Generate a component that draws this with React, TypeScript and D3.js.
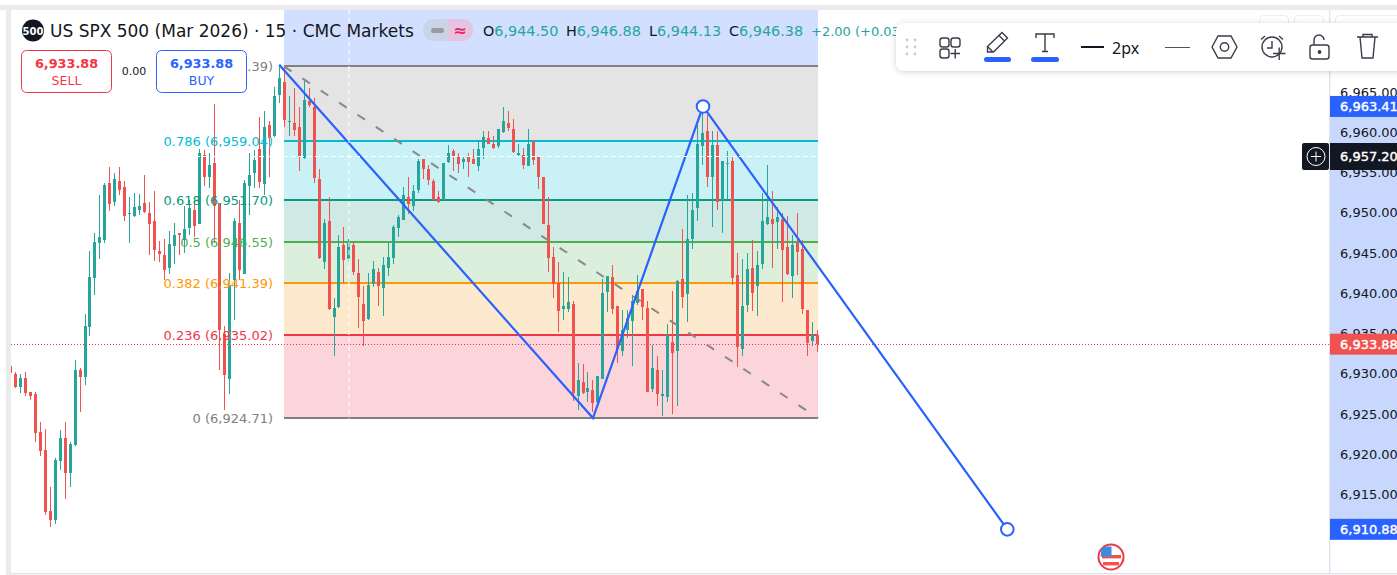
import React from 'react';
import * as d3 from 'd3';

const FONT = '"DejaVu Sans", sans-serif';

const symbolTitle = 'US SPX 500 (Mar 2026) · 15 · CMC Markets';
const ohlcFields = [
  { k: 'O', v: '6,944.50' },
  { k: 'H', v: '6,946.88' },
  { k: 'L', v: '6,944.13' },
  { k: 'C', v: '6,946.38' },
];
const changeText = '+2.00 (+0.03%)';
const lastPrice = 6933.88;
const crosshairPrice = 6957.2;
const crosshairBar = 68;

const axisTicks = [6965, 6960, 6955, 6950, 6945, 6940, 6935, 6930, 6925, 6920, 6915];

const direction =
  'rrgrrrrrrggrggrggggg' +
  'rgrrgggrrrrrggrggrgr' +
  'grrrggrgggrgrggrgrrg' +
  'rrrgrggrgrrrggrggggg' +
  'rggrrrrggrrgrrggrrgg' +
  'rrgrgrrrrrrggrgrgrgg' +
  'grrggggrrgrggrgrgggg' +
  'rgrggrrggrgggrgrrgrr' +
  'rgr';

const highs = [
  6931.4,6930.4,6930.2,6930.4,6927.9,6927.9,6924.2,6923.4,6916.2,6919.7,6923.2,6924.2,6921.7,6931.9,6930.9,6937.6,6945.4,6947.7,6952.4,6953.9,
  6955.9,6955.1,6955.9,6954.1,6952.1,6952.6,6952.5,6954.9,6951.6,6952.9,6946.7,6946.9,6947.9,6948.9,6947.7,6951.1,6951.8,6951.8,6958.1,6958.0,
  6957.6,6963.7,6951.4,6936.1,6942.7,6949.5,6951.8,6954.3,6957.6,6958.0,6962.1,6962.8,6961.6,6965.8,6968.4,6968.4,6964.7,6965.7,6963.3,6966.7,
  6965.7,6964.4,6955.6,6949.4,6952.1,6939.6,6947.4,6948.4,6946.9,6946.6,6944.4,6941.1,6942.7,6944.2,6943.4,6944.7,6946.6,6948.7,6949.9,6953.4,
  6954.6,6953.6,6956.9,6956.9,6956.1,6954.4,6952.9,6956.4,6958.6,6958.1,6957.6,6957.1,6957.6,6958.1,6959.3,6960.3,6960.3,6959.8,6960.6,6963.3,
  6962.8,6961.8,6958.7,6958.3,6960.6,6959.1,6957.1,6954.6,6952.1,6945.9,6944.1,6942.9,6942.2,6939.3,6931.6,6931.4,6930.4,6929.4,6929.9,6942.0,
  6942.3,6943.7,6938.6,6938.1,6938.1,6940.0,6942.5,6940.7,6939.3,6933.8,6932.4,6930.7,6936.4,6940.5,6941.8,6948.2,6952.4,6952.6,6961.1,6962.6,
  6962.3,6960.3,6960.3,6956.6,6957.9,6957.1,6945.2,6944.4,6945.2,6946.8,6945.4,6952.6,6956.1,6952.9,6950.9,6950.2,6949.8,6947.4,6950.2,6946.8,
  6938.1,6936.6,6935.6,
];
const bodyHighs = [
  6931.2,6930.2,6929.7,6929.7,6927.9,6927.7,6923.0,6920.7,6913.1,6919.5,6922.2,6922.2,6921.5,6930.7,6930.7,6936.1,6942.2,6946.6,6947.2,6953.6,
  6953.9,6954.4,6954.1,6953.4,6950.2,6950.9,6951.1,6951.4,6950.2,6949.2,6945.4,6944.9,6946.3,6947.4,6947.7,6948.2,6950.8,6950.5,6957.6,6957.4,
  6956.1,6956.4,6951.4,6935.2,6941.2,6949.2,6948.9,6953.9,6954.9,6956.7,6958.1,6960.8,6961.1,6964.7,6966.9,6966.4,6961.6,6961.3,6960.8,6964.2,
  6964.1,6963.4,6954.4,6948.9,6949.2,6938.4,6945.9,6946.2,6946.4,6946.2,6942.7,6938.9,6941.2,6943.2,6942.9,6943.7,6944.7,6948.4,6949.7,6952.4,
  6952.1,6952.9,6956.6,6956.9,6955.6,6954.1,6952.1,6956.4,6957.6,6957.9,6957.1,6956.9,6957.1,6956.9,6958.1,6959.6,6959.5,6958.7,6960.6,6961.6,
  6961.3,6960.6,6957.6,6957.4,6958.8,6959.1,6957.1,6954.6,6948.7,6944.7,6941.5,6938.6,6939.1,6938.9,6929.4,6929.2,6928.4,6928.2,6929.9,6940.2,
  6942.3,6942.2,6938.6,6935.6,6937.1,6939.2,6940.5,6940.7,6938.4,6930.9,6930.7,6927.7,6935.0,6934.1,6941.7,6942.0,6946.9,6950.6,6958.8,6960.1,
  6960.3,6958.6,6958.6,6956.6,6956.4,6956.6,6942.5,6938.6,6943.2,6943.4,6943.7,6949.2,6949.7,6949.4,6949.7,6949.4,6945.9,6946.2,6946.4,6945.7,
  6938.1,6935.1,6935.0,
];
const bodyLows = [
  6930.3,6928.5,6928.5,6927.8,6927.5,6922.8,6920.6,6913.0,6912.0,6912.0,6919.4,6917.9,6917.9,6921.3,6929.8,6929.8,6936.0,6942.1,6946.4,6946.8,
  6951.3,6951.5,6953.0,6949.8,6950.0,6949.8,6950.5,6950.3,6948.8,6945.6,6945.1,6943.1,6943.3,6946.1,6947.4,6946.8,6948.3,6948.5,6948.8,6954.7,
  6954.6,6951.0,6935.7,6930.0,6929.5,6941.8,6943.1,6942.6,6953.5,6955.2,6954.0,6953.8,6959.5,6959.7,6964.8,6961.7,6961.5,6960.5,6957.2,6957.0,
  6963.6,6954.5,6944.6,6944.1,6938.2,6937.2,6938.5,6944.3,6944.5,6942.8,6939.8,6936.7,6937.0,6941.3,6941.1,6940.8,6943.3,6944.6,6948.3,6949.3,
  6951.3,6951.0,6953.0,6955.7,6954.3,6951.8,6951.5,6951.8,6956.5,6957.2,6956.2,6956.5,6956.5,6956.2,6956.0,6958.2,6958.7,6958.2,6958.5,6960.2,
  6960.7,6957.7,6957.4,6956.1,6956.0,6956.7,6954.7,6948.8,6944.6,6941.3,6938.0,6938.2,6938.2,6927.8,6927.5,6927.8,6928.0,6926.6,6926.7,6929.5,
  6940.3,6938.2,6933.3,6933.0,6935.7,6936.7,6939.0,6938.5,6928.0,6928.3,6927.7,6927.5,6927.3,6932.8,6933.0,6939.8,6940.1,6947.0,6950.8,6958.5,
  6954.7,6954.7,6951.5,6951.8,6956.2,6942.1,6933.5,6933.3,6938.7,6940.2,6941.1,6943.8,6948.8,6948.8,6949.0,6945.6,6942.6,6942.3,6945.3,6938.2,
  6934.0,6934.3,6933.9,
];
const lows = [
  6930.0,6928.4,6927.8,6927.4,6926.9,6921.7,6920.0,6912.6,6911.2,6911.6,6918.2,6914.6,6916.2,6921.2,6925.4,6928.8,6934.9,6940.0,6944.4,6946.4,
  6950.4,6951.1,6952.4,6949.2,6946.4,6949.7,6949.9,6950.2,6944.9,6944.2,6944.1,6941.8,6942.6,6943.9,6944.9,6945.2,6947.4,6947.2,6948.8,6953.5,
  6953.3,6946.4,6930.7,6925.7,6927.7,6936.9,6941.8,6942.6,6949.9,6953.3,6953.3,6952.4,6954.6,6959.6,6963.9,6960.8,6959.8,6959.8,6955.4,6956.9,
  6963.4,6953.9,6944.4,6943.2,6938.1,6932.4,6938.4,6941.5,6944.1,6942.5,6935.9,6933.6,6936.9,6941.0,6938.6,6937.4,6942.3,6943.9,6947.2,6949.3,
  6950.0,6950.4,6952.6,6954.4,6953.6,6951.8,6951.4,6951.8,6956.4,6955.4,6955.2,6955.6,6954.6,6956.2,6955.4,6956.9,6958.7,6958.1,6958.3,6960.1,
  6960.3,6957.6,6957.2,6955.6,6956.0,6956.1,6953.1,6948.8,6942.9,6939.6,6935.4,6936.9,6937.9,6926.8,6925.7,6927.7,6926.7,6925.4,6926.2,6929.5,
  6937.9,6937.6,6931.6,6932.4,6934.6,6931.2,6938.7,6936.9,6927.9,6927.9,6926.2,6924.9,6926.7,6925.2,6926.2,6938.4,6936.6,6945.7,6949.2,6956.1,
  6953.4,6948.4,6950.6,6947.7,6951.8,6941.2,6931.1,6932.4,6937.9,6938.0,6937.4,6943.2,6948.7,6943.4,6945.7,6939.1,6942.5,6939.6,6942.5,6937.6,
  6932.4,6933.6,6932.9,
];

const fibLevels = [
  { ratio: '1', price: 6968.39, color: '#808080', fill: '#e4e4e4' },
  { ratio: '0.786', price: 6959.04, color: '#00bcd4', fill: '#caf1f5' },
  { ratio: '0.618', price: 6951.7, color: '#089981', fill: '#cfe9e4' },
  { ratio: '0.5', price: 6946.55, color: '#4caf50', fill: '#dcefdc' },
  { ratio: '0.382', price: 6941.39, color: '#ff9800', fill: '#fde9cd' },
  { ratio: '0.236', price: 6935.02, color: '#f23645', fill: '#fbd5da' },
  { ratio: '0', price: 6924.71, color: '#808080', fill: '' },
];
const fibStartBar = 55;
const fibEndBar = 162;

const pathBars = [54, 117, 139.1, 200.2];
const pathPrices = [6968.6, 6924.71, 6963.41, 6910.88];
const pathLabels = ['6,963.41', '6,910.88'];

const fmt = d3.format(',.2f');
const x = d3.scaleLinear().domain([0, 162]).range([10.3, 817.06]);
const y = d3.scaleLinear().domain([6935.02, 6924.71]).range([335, 418]);
const pathLine = d3.line<number>().x((d) => x(d)).y((_, i) => y(pathPrices[i]));

const UP = '#26a69a';
const DOWN = '#ef5350';

function Icons() {
  const st = { fill: 'none', stroke: '#3a3d46', strokeWidth: 1.4 };
  return (
    <g>
      {[40, 47, 54].map((cy) =>
        [907, 915].map((cx) => <circle key={cx + '-' + cy} cx={cx} cy={cy - 0} r={1.4} fill="#c9cbd1" />),
      )}
      <g {...st}>
        <rect x={940} y={38} width={9} height={9} rx={2.5} />
        <rect x={951} y={38} width={9} height={9} rx={2.5} />
        <rect x={940} y={49} width={9} height={9} rx={2.5} />
        <path d="M950.5 53.5h9.5M955.2 49v9.5" />
      </g>
      <g {...st}>
        <path d="M987.5 52v-5.5L1002 32.5l5.5 5.5L993.5 52z M999 35.5l5.5 5.5 M987.5 46.5l5.5 5.5" />
      </g>
      <rect x={984} y={57} width={27} height={5} rx={2.5} fill="#2962ff" />
      <g {...st}>
        <path d="M1036 38v-4h18v4M1045 34v17.5M1042 51.5h6" />
      </g>
      <rect x={1031} y={57} width={28} height={5} rx={2.5} fill="#2962ff" />
      <rect x={1081} y={46} width={23} height={2} fill="#131722" />
      <text x={1112} y={53.5} fontSize={16} fontFamily={'"Noto Sans", sans-serif'} fill="#131722">2px</text>
      <rect x={1165} y={47} width={25} height={1} fill="#555" />
      <g {...st}>
        <path d="M1212 47l6-11h13l6 11-6 11h-13z" />
        <circle cx={1224.5} cy={47} r={4.2} />
      </g>
      <g {...st}>
        <circle cx={1272} cy={47} r={10} />
        <path d="M1272 41v7h-5M1261 39.5l4-3.5M1283 39.5l-4-3.5" />
        <path d="M1273 53.5h12.5M1279.2 47.5v12.5" stroke="#3a3d46" />
      </g>
      <g {...st}>
        <rect x={1310} y={45} width={19} height={14} rx={2.5} />
        <path d="M1314 45v-5a5 5 0 0 1 10 0" />
        <circle cx={1319.5} cy={52} r={1.2} fill="#3a3d46" />
      </g>
      <g {...st}>
        <path d="M1357 37h21M1360 37l2 21h11l2-21M1363 37v-2.5h9V37" />
      </g>
    </g>
  );
}

export default function App() {
  const fx0 = Math.round(x(fibStartBar));
  const fx1 = x(fibEndBar) + 1;
  const W = 1397;
  const H = 575;
  return (
    <svg
      width={W}
      height={H}
      style={{ position: 'fixed', left: 0, top: 0, display: 'block', background: '#fff' }}
      fontFamily={FONT}
    >
      <defs>
        <clipPath id="pane"><rect x={11} y={10} width={1318} height={563} /></clipPath>
        <filter id="shadow" x="-5%" y="-30%" width="110%" height="170%">
          <feDropShadow dx={0} dy={1} stdDeviation={3} floodColor="#000" floodOpacity={0.18} />
        </filter>
      </defs>
      {/* page chrome */}
      <rect x={0} y={5} width={W} height={5} fill="#ebebeb" />
      <rect x={6} y={5} width={5} height={H} fill="#ebebeb" />
      <rect x={1329} y={10} width={1.4} height={563} fill="#e0e3eb" />
      <rect x={11} y={573} width={W} height={1.4} fill="#e0e3eb" />

      {/* axis selection */}
      <rect x={1330} y={y(pathPrices[2])} width={67} height={y(pathPrices[3]) - y(pathPrices[2])} fill="#c8d7fd" />
      <rect x={fx0} y={10} width={fx1 - fx0} height={y(fibLevels[0].price) - 10} fill="#d3dffe" />

      {/* fib fills */}
      {fibLevels.slice(0, -1).map((l, i) => (
        <rect key={l.ratio} x={fx0} width={fx1 - fx0} y={y(l.price)} height={y(fibLevels[i + 1].price) - y(l.price)} fill={l.fill} />
      ))}
      {fibLevels.map((l) => (
        <rect key={l.ratio} x={fx0} width={fx1 - fx0} y={Math.floor(y(l.price)) - 1} height={2} fill={l.color} />
      ))}

      {/* candles */}
      <g clipPath="url(#pane)" shapeRendering="crispEdges">
        {highs.map((h, i) => {
          const c = direction[i] === 'g' ? UP : DOWN;
          const cx = Math.floor(x(i));
          const t = Math.round(y(bodyHighs[i]));
          const b = Math.round(y(bodyLows[i]));
          return (
            <g key={i} fill={c}>
              <rect x={cx} y={y(h)} width={1} height={y(lows[i]) - y(h)} />
              <rect x={cx - 1} y={t} width={3} height={Math.max(1, b - t)} />
            </g>
          );
        })}
      </g>

      {/* last price line */}
      <line x1={11} x2={1329} y1={Math.round(y(lastPrice)) + 0.5} y2={Math.round(y(lastPrice)) + 0.5} stroke="#f23645" strokeDasharray="1 2" />

      {/* fib labels */}
      {fibLevels.map((l) => (
        <text key={l.ratio} x={273} y={y(l.price) + 4.5} textAnchor="end" fontSize={13} fill={l.color}>
          {l.ratio} ({fmt(l.price)})
        </text>
      ))}

      {/* fib trend dashed */}
      <line x1={fx0} y1={y(fibLevels[0].price)} x2={fx1} y2={y(fibLevels[6].price)} stroke="#888" strokeWidth={2} strokeDasharray="9 13" />

      {/* blue polyline */}
      <path d={pathLine(pathBars) ?? ''} fill="none" stroke="#2962ff" strokeWidth={2.2} />
      {[2, 3].map((i) => (
        <circle key={i} cx={x(pathBars[i])} cy={y(pathPrices[i])} r={6.3} fill="#fff" stroke="#2962ff" strokeWidth={2} />
      ))}

      {/* crosshair */}
      <line x1={x(crosshairBar)} x2={x(crosshairBar)} y1={10} y2={573} stroke="#fff" strokeWidth={1} strokeDasharray="5 3" />
      <line x1={11} x2={1329} y1={Math.round(y(crosshairPrice)) + 0.5} y2={Math.round(y(crosshairPrice)) + 0.5} stroke="#fff" strokeWidth={1} strokeDasharray="5 3" />

      {/* header */}
      <circle cx={33} cy={30.5} r={11} fill="#131722" />
      <text x={33} y={34.5} textAnchor="middle" fontSize={10} fontWeight={700} fill="#fff">500</text>
      <text x={50} y={37} fontSize={17} fill="#131722">{symbolTitle}</text>
      <g>
        <rect x={423} y={19} width={50} height={22} rx={11} fill="#c9d4e8" />
        <path d="M448 19h14a11 11 0 0 1 0 22h-14z" fill="#e5c4e2" />
        <rect x={431} y={28} width={13} height={5} rx={2.5} fill="#9a9a9f" />
        <text x={460} y={36} textAnchor="middle" fontSize={16} fontWeight={700} fill="#e91e63">≈</text>
      </g>
      <g fontSize={14.4}>
        {ohlcFields.map((f, i) => (
          <text key={f.k} x={[483, 566, 649, 729][i]} y={36}>
            <tspan fill="#131722">{f.k}</tspan>
            <tspan fill={UP}>{f.v}</tspan>
          </text>
        ))}
        <text x={811} y={36} fontSize={13} fill={UP}>{changeText}</text>
      </g>

      {/* sell/buy */}
      <rect x={21.5} y={50.5} width={90} height={42} rx={5} fill="#fff" stroke="#f23645" />
      <text x={66.5} y={68} textAnchor="middle" fontSize={12.8} fontWeight={700} fill="#f23645">{fmt(lastPrice)}</text>
      <text x={66.5} y={85} textAnchor="middle" fontSize={12.5} fill="#f23645">SELL</text>
      <text x={134} y={75} textAnchor="middle" fontSize={11} fill="#131722">0.00</text>
      <rect x={156.5} y={50.5} width={90} height={42} rx={5} fill="#fff" stroke="#2962ff" />
      <text x={201.5} y={68} textAnchor="middle" fontSize={12.8} fontWeight={700} fill="#2962ff">{fmt(lastPrice)}</text>
      <text x={201.5} y={85} textAnchor="middle" fontSize={12.5} fill="#2962ff">BUY</text>

      {/* axis ticks */}
      {axisTicks.map((t) => (
        <text key={t} x={1340} y={y(t) + 3} fontSize={13} fill="#131722">{fmt(t)}</text>
      ))}
      {/* axis labels */}
      {[
        { p: pathPrices[2], c: '#2962ff', t: pathLabels[0] },
        { p: lastPrice, c: '#f0524f', t: fmt(lastPrice) },
        { p: pathPrices[3], c: '#2962ff', t: pathLabels[1] },
      ].map((l) => (
        <g key={l.t}>
          <rect x={1330} y={y(l.p) - 10.5} width={67} height={21} fill={l.c} />
          <text x={1340} y={y(l.p) + 5} fontSize={13} stroke="#fff" strokeWidth={0.4} fill="#fff">{l.t}</text>
        </g>
      ))}
      <rect x={1330} y={143} width={67} height={27} fill="#131722" />
      <text x={1340} y={y(crosshairPrice) + 5} fontSize={13} stroke="#fff" strokeWidth={0.4} fill="#fff">{fmt(crosshairPrice)}</text>
      <rect x={1302} y={143} width={27} height={27} rx={2} fill="#131722" />
      <circle cx={1316} cy={156.5} r={9} fill="none" stroke="#fff" />
      <path d="M1311 156.5h10M1316 151.5v10" stroke="#fff" />

      {/* top right ghost buttons */}
      <rect x={1259.5} y={15.5} width={29} height={14} rx={4} fill="#fff" stroke="#eceef2" />
      <rect x={1294.5} y={15.5} width={29} height={14} rx={4} fill="#fff" stroke="#eceef2" />
      <rect x={1335.5} y={15.5} width={70} height={14} rx={4} fill="#fff" stroke="#eceef2" />

      {/* toolbar */}
      <rect x={896} y={23} width={520} height={48} rx={8} fill="#fff" filter="url(#shadow)" />
      <Icons />

      {/* flag */}
      <g>
        <circle cx={1111} cy={557} r={12.5} fill="#fff" stroke="#f23645" strokeWidth={2} />
        <rect x={1102} y={555} width={19} height={3.4} fill="#ef5350" />
        <rect x={1103} y={562} width={16} height={3.4} fill="#ef5350" />
        <path d="M1101.5 549a5 5 0 0 1 3-2.5h7v10h-11z" fill="#3d8bdf" />
      </g>
    </svg>
  );
}
